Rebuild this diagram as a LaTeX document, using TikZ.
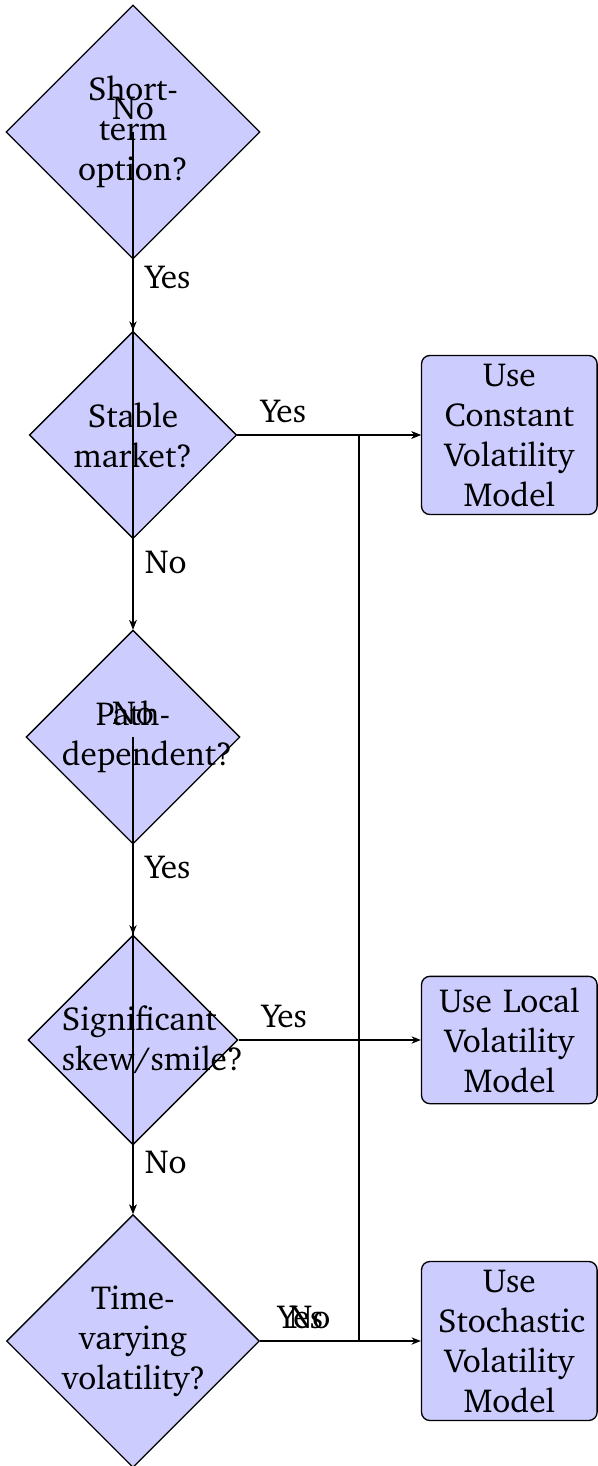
\documentclass[tikz,border=0pt]{standalone}
\usepackage[T1]{fontenc}
\usepackage{charter}
\usetikzlibrary{shapes.geometric,arrows.meta}
\hyphenpenalty=10000
\begin{document}
\begin{tikzpicture}[x=0.3pt,y=-0.3pt,
  every node/.style={font={\fontsize{10}{12}\selectfont}},
  decision/.style={diamond,draw,fill=blue!20,text width=1.5cm,align=center,inner sep=0pt},
  model/.style={rectangle,draw,fill=blue!20,rounded corners=2.5pt,text width=1.5cm,align=center,inner xsep=5pt,inner ysep=2pt},
  arr/.style={-{Stealth[length=2.8pt,width=2.2pt]}},
  lab/.style={pos=0.25}]
\useasboundingbox (0,0) rectangle (598,1466);
\node[decision] (d1) at (133,132) {Short-term option?};
\node[decision] (d2) at (133,435) {Stable market?};
\node[decision] (d3) at (133,737) {Path-dependent?};
\node[decision] (d4) at (133,1040) {Significant skew/smile?};
\node[decision] (d5) at (133,1341) {Time-varying volatility?};
\node[model, minimum height=47.7pt] (m1) at (509.3,435) {Use Constant Volatility Model};
\node[model, minimum height=38.2pt] (m2) at (509.3,1040) {Use Local Volatility Model};
\node[model, minimum height=47.7pt] (m3) at (509.3,1341) {Use Stochastic Volatility Model};
\coordinate (nc) at (359,435);
\draw[arr] (d1) -- node[lab,right]{Yes} (d2);
\draw[arr] (d1.center) -- node[at start,above]{No} (d3.north);
\draw[arr] (d2) -- node[lab,above]{Yes} (m1);
\draw[arr] (d2) -- node[lab,right]{No} (d3);
\draw[arr] (d3) -- node[lab,right]{Yes} (d4);
\draw[arr] (d3.center) -- node[at start,above]{No} (d5.north);
\draw[arr] (d4) -- node[lab,above]{Yes} (m2);
\draw[arr] (d4) -- node[lab,right]{No} (d5);
\draw[arr] (d5) -- node[lab,above]{Yes} (m3);
\draw[arr] (d5) -| node[lab,above]{No} (nc) -- (m1);
\end{tikzpicture}
\end{document}
